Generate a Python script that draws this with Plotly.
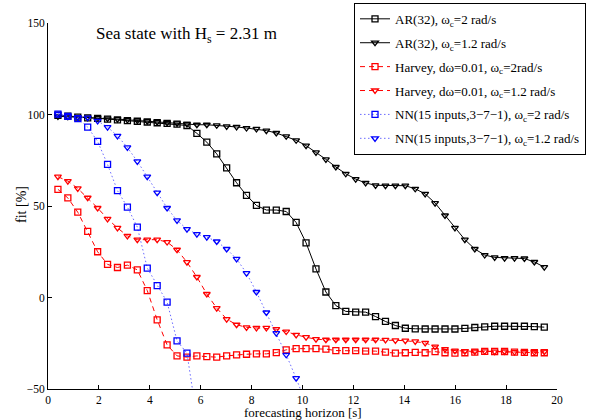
import numpy as np
import plotly.graph_objects as go

# forecasting horizon grid [s]
horizon = [round(0.39 * k, 2) for k in range(1, 51)]

ar_wc2 = [99.6, 99.1, 98.6, 98.2, 97.9, 97.5, 97.1, 96.7, 96.3, 95.9,
          95.5, 95.1, 94.7, 94.0, 89.7, 84.9, 78.5, 70.8, 62.7, 55.8,
          50.3, 47.8, 47.8, 47.0, 41.0, 29.9, 15.6, 3.0, -4.4, -7.6,
          -8.0, -8.0, -10.4, -13.1, -15.3, -16.8, -17.1, -17.2, -17.2, -17.2,
          -17.2, -16.9, -16.4, -16.0, -15.7, -15.7, -15.7, -15.7, -15.9, -16.2]

ar_wc12 = [99.0, 98.8, 98.5, 98.3, 98.1, 97.8, 97.5, 97.1, 96.7, 96.3,
           95.9, 95.5, 95.1, 94.8, 94.4, 94.4, 94.1, 93.5, 93.2, 92.6,
           92.1, 91.2, 89.9, 88.1, 85.9, 83.0, 79.3, 75.5, 71.3, 67.6,
           64.7, 62.6, 61.3, 61.1, 61.1, 61.1, 59.4, 56.6, 51.6, 44.8,
           38.0, 31.6, 26.5, 23.2, 21.9, 21.5, 21.5, 21.3, 19.4, 16.6]

harvey_wc2 = [59.1, 54.4, 46.6, 36.1, 25.0, 18.1, 16.4, 17.7, 15.1, 3.8,
              -12.2, -25.9, -31.9, -32.6, -31.9, -32.3, -32.6, -31.9, -31.3, -31.0,
              -30.8, -30.8, -30.1, -28.6, -27.9, -27.9, -27.9, -28.2, -29.0, -29.0,
              -29.0, -29.3, -29.3, -29.9, -30.4, -30.2, -30.0, -30.2, -29.6, -30.2,
              -30.4, -30.2, -29.9, -29.4, -29.5, -29.5, -29.8, -30.0, -30.2, -30.2]

harvey_wc12 = [66.0, 63.6, 59.6, 54.5, 48.9, 43.0, 38.0, 33.7, 31.6, 31.6,
               31.6, 30.3, 26.1, 19.3, 11.2, 1.9, -5.8, -11.8, -14.9, -16.3,
               -16.6, -16.6, -17.3, -18.6, -20.4, -21.7, -22.8, -23.1, -23.1, -23.1,
               -23.1, -23.1, -23.1, -23.2, -23.4, -23.6, -24.0, -24.8, -26.8, -28.2,
               -29.0, -29.3, -29.5, -29.4, -29.6, -29.5, -29.8, -29.7, -29.8, -29.6]

nn_wc2 = [100.2, 99.0, 97.7, 93.1, 85.3, 72.7, 58.4, 49.4, 38.5, 16.1,
          6.5, -2.5, -23.7, -30.4, -66.0]

nn_wc12 = [100.2, 99.1, 98.3, 98.3, 96.5, 93.1, 88.3, 82.0, 74.4, 66.0,
           57.3, 48.9, 42.1, 37.4, 34.6, 33.0, 30.6, 26.5, 21.1, 13.3,
           3.0, -8.2, -19.5, -31.3, -44.1, -58.0]

names = ["AR(32), ω<sub>c</sub>=2 rad/s",
         "AR(32), ω<sub>c</sub>=1.2 rad/s",
         "Harvey, dω=0.01, ω<sub>c</sub>=2rad/s",
         "Harvey, dω=0.01, ω<sub>c</sub>=1.2 rad/s",
         "NN(15 inputs,3−7−1), ω<sub>c</sub>=2 rad/s",
         "NN(15 inputs,3−7−1), ω<sub>c</sub>=1.2 rad/s"]

FONT = "Liberation Serif"
BLACK, RED, BLUE = "#000000", "#ff0000", "#0000ff"

series = [
    (ar_wc2, names[0], BLACK, "solid", "square-open", BLACK),
    (ar_wc12, names[1], BLACK, "solid", "triangle-down-open", BLACK),
    (harvey_wc2, names[2], RED, "5px,4px", "square-open", RED),
    (harvey_wc12, names[3], RED, "5px,4px", "triangle-down-open", RED),
    (nn_wc2, names[4], BLUE, "1.5px,2.5px", "square-open", "rgba(70,70,255,0.8)"),
    (nn_wc12, names[5], BLUE, "1.5px,2.5px", "triangle-down-open", "rgba(70,70,255,0.8)"),
]

fig = go.Figure()
for k, (vals, name, col, dash, sym, lcol) in enumerate(series):
    fig.add_trace(go.Scatter(
        x=horizon[:len(vals)], y=vals, name=name, mode="lines+markers",
        legendgroup=f"g{k}",
        line=dict(color=lcol, width=1, dash=dash),
        marker=dict(symbol=sym, size=6, color=col, line=dict(color=col, width=1.3)),
        cliponaxis=True,
    ))

fig.update_layout(
    width=589, height=420,
    margin=dict(l=48, r=32, t=23, b=31, autoexpand=False),
    paper_bgcolor="white", plot_bgcolor="white",
    font=dict(family=FONT, size=12, color="black"),
    showlegend=True,
    legend=dict(x=1.057, y=1.055, xanchor="right", yanchor="top",
                bgcolor="white", bordercolor="black", borderwidth=1,
                font=dict(family=FONT, size=13), itemwidth=30,
                tracegroupgap=4),
)
fig.update_xaxes(range=[0, 20], dtick=2, tick0=0, ticks="inside", ticklen=4,
                 tickcolor="black", showline=True, linecolor="black", linewidth=1,
                 showgrid=False, zeroline=False, tickfont=dict(size=11.5, family=FONT))
fig.update_yaxes(range=[-50, 150], dtick=50, tick0=0, ticks="inside", ticklen=4,
                 tickcolor="black", showline=True, linecolor="black", linewidth=1,
                 showgrid=False, zeroline=False, tickfont=dict(size=11.5, family=FONT))

fig.add_annotation(text="forecasting horizon [s]", xref="paper", yref="paper",
                   x=0.5, y=-0.0643, xanchor="center", yanchor="middle",
                   showarrow=False, font=dict(family=FONT, size=13))
fig.add_annotation(text="fit [%]", xref="paper", yref="paper",
                   x=-0.051, y=0.503, xanchor="center", yanchor="middle",
                   textangle=-90, showarrow=False, font=dict(family=FONT, size=14))
fig.add_annotation(text="Sea state with H<sub>s</sub> = 2.31 m", xref="paper", yref="paper",
                   x=0.09, y=0.968, xanchor="left", yanchor="middle",
                   showarrow=False, font=dict(family=FONT, size=17))

fig.write_html("out.html")
